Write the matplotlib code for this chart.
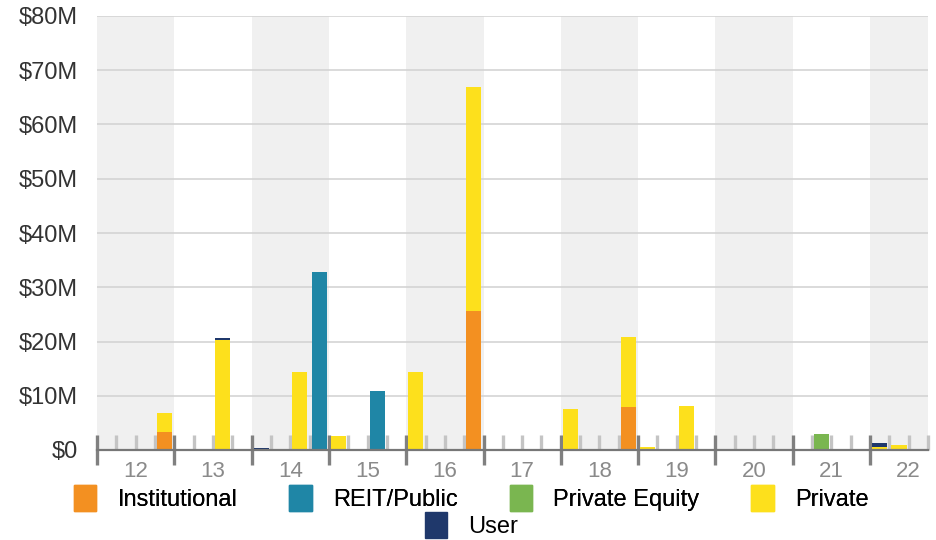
import matplotlib.pyplot as plt
from matplotlib.patches import Patch
import numpy as np

plt.rcParams['font.family'] = ['Liberation Sans', 'DejaVu Sans']

# quarterly volume, $M, 2012 Q1 .. 2022 Q3
years = ['12', '13', '14', '15', '16', '17', '18', '19', '20', '21', '22']
n_quarters = 43

institutional = [0, 0, 0, 3.4,   0, 0, 0, 0,      0, 0, 0, 0,     0, 0, 0, 0,
                 0, 0, 0, 25.7,  0, 0, 0, 0,      0, 0, 0, 8.0,   0, 0, 0, 0,
                 0, 0, 0, 0,     0, 0, 0, 0,      0, 0, 0]
reit_public = [0, 0, 0, 0,      0, 0, 0, 0,      0, 0, 0, 32.9,  0, 0, 10.9, 0,
               0, 0, 0, 0,      0, 0, 0, 0,      0, 0, 0, 0,     0, 0, 0, 0,
               0, 0, 0, 0,      0, 0, 0, 0,      0, 0, 0]
private_equity = [0, 0, 0, 0,   0, 0, 0, 0,      0, 0, 0, 0,     0, 0, 0, 0,
                  0, 0, 0, 0,   0, 0, 0, 0,      0, 0, 0, 0,     0, 0, 0, 0,
                  0, 0, 0, 0,   0, 3.0, 0, 0,    0, 0, 0]
private = [0, 0, 0, 3.5,     0, 0, 20.3, 0,   0, 0, 14.4, 0,  2.6, 0, 0, 0,
           14.3, 0, 0, 41.2, 0, 0, 0, 0,      7.6, 0, 0, 12.9, 0.6, 0, 8.2, 0,
           0, 0, 0, 0,       0, 0, 0, 0,      0.5, 1.0, 0]
user = [0, 0, 0, 0,      0, 0, 0.4, 0,    0.4, 0, 0, 0,   0, 0, 0, 0,
        0, 0, 0, 0,      0, 0, 0, 0,      0, 0, 0, 0,     0, 0, 0, 0,
        0, 0, 0, 0,      0, 0, 0, 0,      0.7, 0, 0]

series = [("Institutional", institutional, "#F39021"),
          ("REIT/Public", reit_public, "#1F86A6"),
          ("Private Equity", private_equity, "#7AB650"),
          ("Private", private, "#FDE01C"),
          ("User", user, "#1F386B")]

fig = plt.figure(figsize=(9.37, 5.4), dpi=100)
ax = fig.add_axes([97 / 937, 1 - 450 / 540, 831 / 937, 434 / 540])

# alternating year bands
for k in range(len(years)):
    if k % 2 == 0:
        ax.axvspan(4 * k, min(4 * k + 4, n_quarters), color="#f0f0f0", lw=0, zorder=0)

x = np.arange(n_quarters) + 0.5
bottom = np.zeros(n_quarters)
for name, vals, col in series:
    vals = np.array(vals)
    ax.bar(x, vals, width=0.78, bottom=bottom, color=col, zorder=3, label=name)
    bottom += vals

ax.set_xlim(0, n_quarters)
ax.set_ylim(0, 80)
ax.set_yticks(range(0, 81, 10))
ax.set_yticklabels(["$0"] + ["$%dM" % v for v in range(10, 81, 10)], fontsize=17, color="#333333")
ax.yaxis.grid(True, color="#d4d4d4", lw=1.2, zorder=1)
ax.set_axisbelow(True)
ax.tick_params(axis='y', length=0, pad=14)

major = list(range(0, 41, 4))
minor = [i for i in range(1, n_quarters + 1) if i % 4 != 0]
ax.set_xticks(major)
ax.set_xticks(minor, minor=True)
ax.set_xticklabels([])
ax.tick_params(axis='x', which='major', direction='inout', length=21, width=2.4, color="#808080")
ax.tick_params(axis='x', which='minor', direction='in', length=10.5, width=2.4, color="#c4c4c4")

for s in ['top', 'right', 'left']:
    ax.spines[s].set_visible(False)
ax.spines['bottom'].set_color("#777777")
ax.spines['bottom'].set_linewidth(1.6)
ax.spines['bottom'].set_zorder(4)

for k, yr in enumerate(years):
    ax.text(4 * k + 2, -3.9, yr, ha='center', va='center', fontsize=16, color="#8a8a8a")

handles = [Patch(facecolor=c, edgecolor=c, label=n) for n, _, c in series]
leg1 = fig.legend(handles=handles[:4], ncol=4, loc='center', bbox_to_anchor=(0.503, 1 - 498 / 540),
                  frameon=False, fontsize=17, handlelength=0.95, handleheight=1.3,
                  columnspacing=2.2, handletextpad=0.9)
fig.add_artist(leg1)
fig.legend(handles=handles[4:], loc='center', bbox_to_anchor=(0.503, 1 - 525 / 540),
           frameon=False, fontsize=17, handlelength=0.95, handleheight=1.3, handletextpad=0.9)

fig.savefig("out.png", dpi=100)
